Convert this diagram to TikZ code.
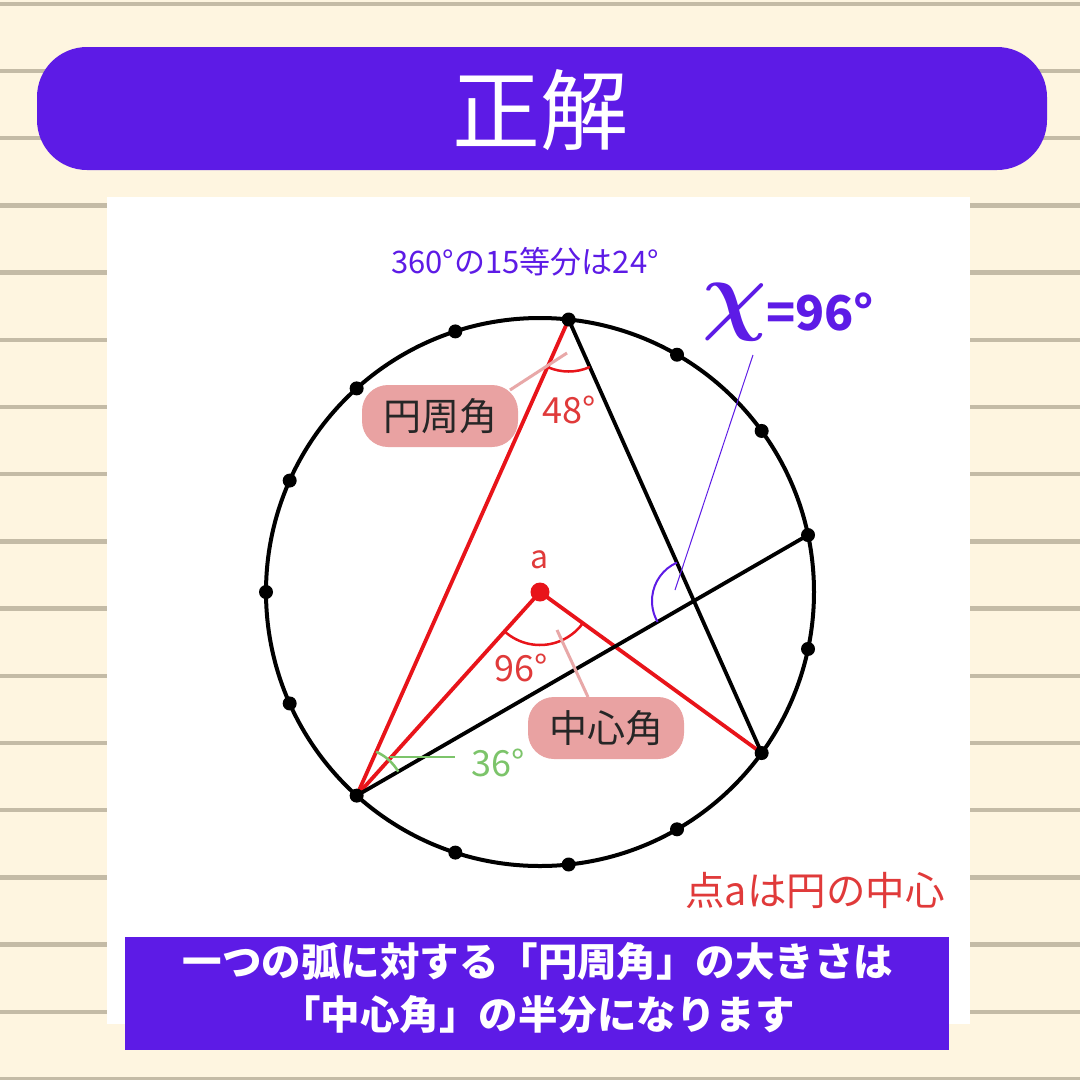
\documentclass[tikz,border=0pt]{standalone}
\usepackage{fontspec}
\usepackage{amsmath}
\usepackage{graphicx}
\setmainfont{Noto Sans CJK JP}
\usetikzlibrary{calc}
\definecolor{cream}{HTML}{FEF5E0}
\definecolor{stripe}{HTML}{C4BBA6}
\definecolor{violet}{HTML}{5D1BE6}
\definecolor{redline}{HTML}{E8141A}
\definecolor{pinkbox}{HTML}{E9A2A2}
\definecolor{pinkline}{HTML}{E8A8A8}
\definecolor{greenl}{HTML}{7CC46A}
\definecolor{labred}{HTML}{E03A3A}
\newcommand{\fsz}[1]{\fontsize{#1}{#1}\selectfont}
\begin{document}
\begin{tikzpicture}[x=1pt,y=-1pt,
  chord/.style={line width=3.8pt},
  redchord/.style={line width=3.8pt,draw=redline},
  dot/.style={circle,fill=black,inner sep=0pt,minimum size=14pt},
  pinklabel/.style={fill=pinkbox,rounded corners=26pt,minimum width=156pt,minimum height=62pt,text=black!85,font=\fsz{38}},
  pinkconn/.style={draw=pinkline,line width=3pt},
  angred/.style={draw=redline,line width=2.5pt},
]
\useasboundingbox (0,0) rectangle (1080,1080);
\fill[cream] (0,0) rectangle (1080,1080);
\foreach \k in {0,...,16} {
  \fill[stripe] (0,{1.5+67.2*\k}) rectangle (1080,{6+67.2*\k});
}
% title bar
\node[fill=violet,rounded corners=50pt,minimum width=1010pt,minimum height=123pt,inner sep=0pt] (title) at (542,108.5) {};
\node[text=white,font=\fsz{88}] (titletext) at (540,110) {正解};
% white panel
\fill[white] (107,197) rectangle (970,1024);
% circle
\coordinate (O) at (540,592);
\draw[line width=4pt] (O) circle[radius=274pt];
\foreach \i in {0,...,14} {
  \pgfmathsetmacro\ang{84+24*\i}
  \coordinate (p\i) at ($(O)+(\ang:274pt)$);
}
% label text top
\node[text=violet,font=\fsz{31}] (note) at (525,262) {360°の15等分は24°};
% red chords
\draw[redchord] (p0) -- (p6);
\draw[redchord] (p6) -- (O) -- (p10);
% black chords
\draw[chord] (p0) -- (p10);
\draw[chord] (p6) -- (p12);
\coordinate (I) at (intersection of p0--p10 and p6--p12);
% angle marks
\draw[angred] ($(p0)+(246:52pt)$) arc[start angle=246,end angle=294,radius=52pt];
\draw[angred] ($(O)+(228:53pt)$) arc[start angle=228,end angle=324,radius=53pt];
\draw[draw=greenl,line width=2.5pt] ($(p6)+(30:48pt)$) arc[start angle=30,end angle=66,radius=48pt];
\draw[draw=violet,line width=2pt] ($(I)+(114:42pt)$) arc[start angle=114,end angle=210,radius=42pt];
% dots
\foreach \i in {0,...,14} { \node[dot] (d\i) at (p\i) {}; }
\node[circle,fill=redline,inner sep=0pt,minimum size=19pt] (center) at (O) {};
\node[text=labred,font=\fsz{32}] (alabel) at (540,560) {a};
% x label
\node[text=violet,inner sep=0pt] (xsym) at (735,312) {\scalebox{9}{$\boldsymbol{\chi}$}};
\node[text=violet,font=\fsz{48}\bfseries] (xval) at (820,312) {=96°};
\coordinate (xend) at (675,590);
\draw[violet,line width=1pt] (753,355) -- (xend);
% inscribed angle label
\draw[pinkconn] (510,390) -- (567,353);
\node[pinklabel] (enshu) at (440,416) {円周角};
\node[text=labred,font=\fsz{36}] (a48) at (569,410) {48°};
% central angle label
\draw[pinkconn] (557,630) -- (588,697);
\node[pinklabel] (chushin) at (606,728) {中心角};
\node[text=labred,font=\fsz{36}] (a96) at (521,668) {96°};
% 36 label
\draw[greenl,line width=2pt] (390,757) -- (455,757);
\node[text=greenl,font=\fsz{36}] (a36) at (498,763) {36°};
% point a note
\node[text=labred,font=\fsz{39.5}] (pnote) at (815,890) {点aは円の中心};
% bottom box
\node[fill=violet,minimum width=824pt,minimum height=113pt,inner sep=0pt] (bottom) at (537,993) {};
\node[text=white,font=\fsz{39.5}\bfseries,align=center] (btext) at (538,988) {一つの弧に対する「円周角」の大きさは\\[13pt]「中心角」の半分になります};
\end{tikzpicture}
\end{document}
